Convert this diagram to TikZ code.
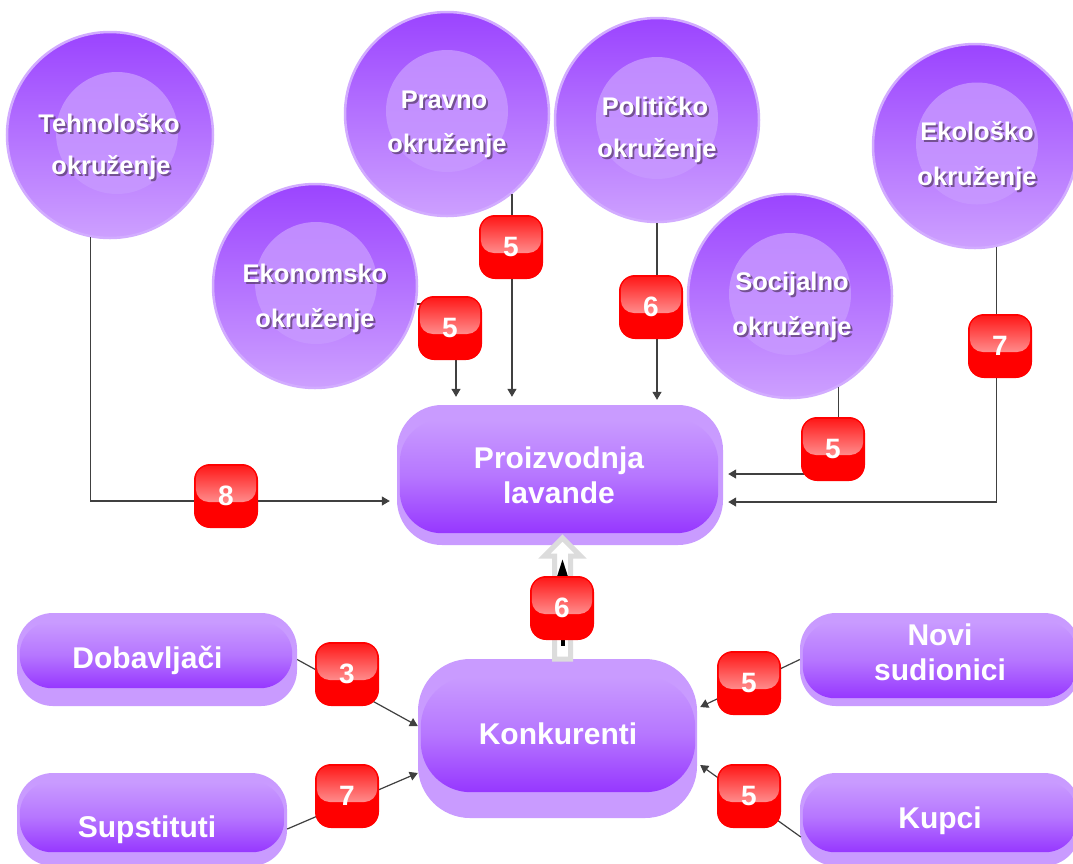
\documentclass[tikz,border=0pt]{standalone}
\usepackage{fontspec}
\setmainfont{Liberation Sans}
\usetikzlibrary{calc,arrows.meta}
\definecolor{purpL}{RGB}{201,155,255}
\definecolor{purpD}{RGB}{150,55,255}
\definecolor{purpM}{RGB}{182,118,255}
\definecolor{circTop}{RGB}{155,68,255}
\definecolor{circBot}{RGB}{205,160,255}
\definecolor{circRim}{RGB}{210,172,255}
\definecolor{innerDisc}{RGB}{200,153,255}
\definecolor{connC}{RGB}{64,64,64}
\definecolor{badgeRed}{RGB}{255,0,0}
\definecolor{badgeHi}{RGB}{255,140,140}
\definecolor{shadowC}{RGB}{90,60,110}
\definecolor{arrGray}{RGB}{220,220,220}
\newcommand\ctxt[4]{%
  \node[cshadow] (#1s) at (#2+2,#3+2) {#4};
  \node[ctext] (#1) at (#2,#3) {#4};}
\newcommand\badge[3]{%
  \node[badgebox] (#1) at (#2) {};
  \path[badgehl] ($(#1.north west)+(2,2)$) rectangle ($(#1.east)+(-2,6)$);
  \node[badgetext] (#1t) at (#1.center) {#3};}
\begin{document}
\begin{tikzpicture}[x=1pt,y=-1pt,
 envcirc/.style={circle, inner sep=0pt, minimum size=204pt, top color=circTop, bottom color=circBot, draw=circRim, line width=2.5pt},
 disc/.style={fill=innerDisc, fill opacity=0.8},
 ctext/.style={anchor=base, inner sep=0pt, text=white, font=\fontsize{25.5}{30}\selectfont\bfseries},
 cshadow/.style={anchor=base, inner sep=0pt, text=shadowC, text opacity=0.75, font=\fontsize{25.5}{30}\selectfont\bfseries},
 boxout/.style={rectangle, rounded corners=#1, inner sep=0pt, fill=purpL},
 boxin/.style={rounded corners=#1, top color=purpL, bottom color=purpD, middle color=purpM},
 btext/.style={anchor=base, inner sep=0pt, text=white, font=\fontsize{30}{34}\selectfont\bfseries},
 badgebox/.style={rectangle, rounded corners=16pt, minimum size=64pt, inner sep=0pt, fill=badgeRed},
 badgehl/.style={rounded corners=13pt, top color=badgeRed!90!white, bottom color=badgeHi},
 badgetext/.style={inner sep=0pt, text=white, font=\fontsize{28}{30}\selectfont\bfseries},
 conn/.style={draw=connC, line width=1.2pt, -{Triangle[length=8pt,width=9pt]}},
]
\clip (0,0) rectangle (1073,863);
\fill[white] (0,0) rectangle (1073,863);

% environment circles
\node[envcirc, minimum size=206pt] (teh) at (110,135) {};
\fill[disc] (117,133) circle (61);
\node[envcirc] (prav) at (447,114) {};
\fill[disc] (447,111) circle (61);
\node[envcirc] (pol) at (657,120) {};
\fill[disc] (657,118) circle (61);
\node[envcirc] (ekon) at (315,286) {};
\fill[disc] (316,283) circle (61);
\node[envcirc] (soc) at (790,296) {};
\fill[disc] (790,294) circle (61);
\node[envcirc] (ekol) at (975,146) {};
\fill[disc] (977,143.5) circle (61);

% boxes
\node[boxout=45pt, minimum width=326pt, minimum height=140pt] (prod) at (560,475) {};
\path[boxin=42pt] ($(prod.north west)+(3,15)$) rectangle ($(prod.south east)+(-5,-12)$);
\node[boxout=52pt, minimum width=279pt, minimum height=159pt] (konk) at (557.5,738.5) {};
\path[boxin=50pt] ($(konk.north west)+(3,18)$) rectangle ($(konk.south east)+(-2,-26)$);
\node[boxout=36pt, minimum width=280pt, minimum height=93pt] (dob) at (157,659.5) {};
\path[boxin=32pt] ($(dob.north west)+(3,9)$) rectangle ($(dob.south east)+(-5,-18)$);
\node[boxout=36pt, minimum width=270pt, minimum height=93pt] (sup) at (152,819.5) {};
\path[boxin=32pt] ($(sup.north west)+(3,9)$) rectangle ($(sup.south east)+(-3,-14)$);
\node[boxout=36pt, minimum width=280pt, minimum height=93pt] (novi) at (940,659.5) {};
\path[boxin=32pt] ($(novi.north west)+(3,9)$) rectangle ($(novi.south east)+(-3,-8)$);
\node[boxout=36pt, minimum width=280pt, minimum height=93pt] (kup) at (940,819.5) {};
\path[boxin=32pt] ($(kup.north west)+(3,9)$) rectangle ($(kup.south east)+(-3,-14)$);

% connectors
\draw[conn] (teh.259.4) |- ($(prod.west)+(-7,26)$);
\draw[conn, shorten >=8pt] (prav.309.6) -- (prav.309.6 |- prod.north);
\draw[conn] (ekon.-10.7) -| ($(prod.north)+(-104,-8)$);
\draw[conn, shorten >=5pt] (pol.south) -- (pol.south |- prod.north);
\draw[conn] (soc.298.1) |- ($(prod.east)+(5,-1)$);
\draw[conn] (ekol.282.4) |- ($(prod.east)+(5,27)$);
\draw[conn] (dob.east) -- ($(konk.west)+(0,-12.5)$);
\draw[conn] ($(sup.east)+(0,9.5)$) -- ($(konk.west)+(0,34.5)$);
\draw[conn] (novi.west) -- ($(konk.east)+(3,-31.5)$);
\draw[conn] ($(kup.west)+(1,17.5)$) -- ($(konk.east)+(3,26.5)$);

% block arrow Konkurenti -> Proizvodnja
\draw[line width=5pt, draw=arrGray, fill=white, line join=miter]
  (554.5,659) -- (554.5,556) -- (544.5,556) -- (562.5,538) -- (580.5,556) -- (570.5,556) -- (570.5,659) -- cycle;
\draw[line width=4pt, black, -{Triangle[length=19pt,width=10pt]}] ($(konk.north)+(5,-13)$) -- ($(prod.south)+(2.5,13)$);

% badges
\badge{bPrav}{511,247}{5}
\badge{bEkon}{450,328}{5}
\badge{bPol}{651,307}{6}
\badge{bSoc}{833,449}{5}
\badge{bEkol}{1000,346}{7}
\badge{bTeh}{226,496}{8}
\badge{bKonk}{562,608}{6}
\badge{bDob}{347,674}{3}
\badge{bSup}{347,796}{7}
\badge{bNovi}{749,683}{5}
\badge{bKup}{749,796}{5}

% circle texts
\ctxt{tehA}{109}{132}{Tehnološko}
\ctxt{tehB}{111}{174}{okruženje}
\ctxt{pravA}{444}{108}{Pravno}
\ctxt{pravB}{447}{152}{okruženje}
\ctxt{polA}{655}{115}{Političko}
\ctxt{polB}{657}{157}{okruženje}
\ctxt{ekonA}{315}{282}{Ekonomsko}
\ctxt{ekonB}{315}{327}{okruženje}
\ctxt{socA}{792}{290}{Socijalno}
\ctxt{socB}{792}{335}{okruženje}
\ctxt{ekolA}{977}{140}{Ekološko}
\ctxt{ekolB}{977}{185}{okruženje}

% box texts
\node[btext] (prodA) at (559,468) {Proizvodnja};
\node[btext] (prodB) at (559,503) {lavande};
\node[btext] (konkA) at (558,744) {Konkurenti};
\node[btext] (dobA) at (147.5,668) {Dobavljači};
\node[btext] (supA) at (147,837) {Supstituti};
\node[btext] (noviA) at (940,645) {Novi};
\node[btext] (noviB) at (940,680) {sudionici};
\node[btext] (kupA) at (940,828) {Kupci};
\end{tikzpicture}
\end{document}
